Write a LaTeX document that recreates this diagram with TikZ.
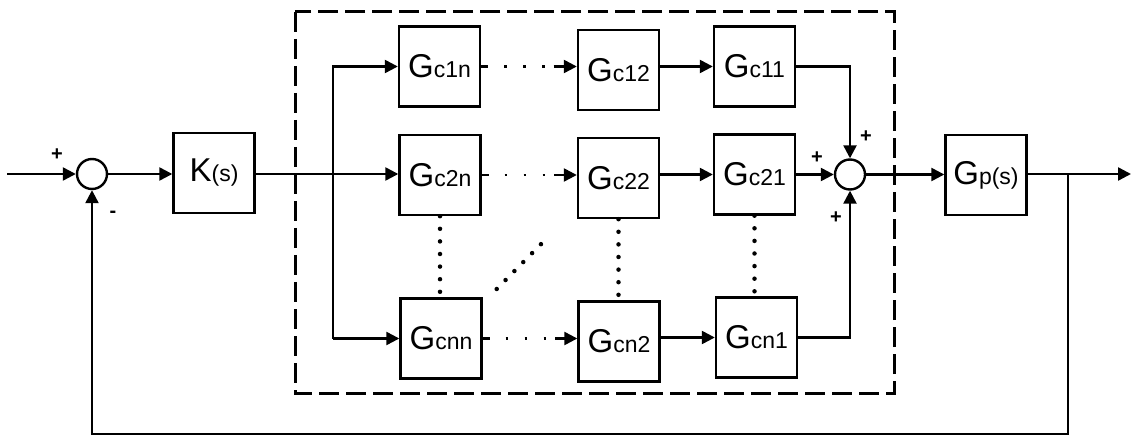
\documentclass[tikz,border=0pt]{standalone}
\usepackage{fontspec}
\setmainfont{Liberation Sans}
\usetikzlibrary{arrows.meta,calc}
% block label: large letter followed by a smaller suffix on the same baseline
\newcommand\blklabel[2]{{\fontsize{33}{33}\selectfont #1}{\fontsize{23}{23}\selectfont #2}}
\begin{document}
\begin{tikzpicture}[x=1pt,y=-1pt,line width=2.4pt,
  block/.style={draw,line width=2.4pt,minimum width=81pt,minimum height=80pt,inner sep=0pt},
  sumjn/.style={circle,draw,line width=2.4pt,minimum size=30pt,inner sep=0pt},
  arr/.style={-{Triangle[length=13pt,width=13pt]}},
  sign/.style={inner sep=0pt,font=\fontsize{20}{20}\selectfont\bfseries},
  hdots/.style={arr,dash pattern=on 7pt off 16pt on 2.5pt off 16.5pt on 2.5pt off 16.5pt on 2.5pt off 9pt on 60pt},
  vdots/.style={line width=4.5pt,line cap=round,dash pattern=on 0pt off 12.6pt},
  frame/.style={line width=3pt,dash pattern=on 20pt off 7pt}]
\useasboundingbox (0,0) rectangle (1131,435);

% controller frame
\draw[frame] (295,12) rectangle (894,393);

% main loop
\node[sumjn] (s1) at (92,174) {};
\node[block] (K) at (214,173) {\blklabel{K}{(s)}};
\node[sumjn] (s2) at (850,174.5) {};
\node[block] (Gp) at (986,175) {\blklabel{G}{p(s)}};

% compensator blocks
\node[block] (g1n) at (439.5,66.5) {\blklabel{G}{c1n}};
\node[block] (g12) at (618.5,70) {\blklabel{G}{c12}};
\node[block] (g11) at (754.5,66.5) {\blklabel{G}{c11}};
\node[block] (g2n) at (440,175) {\blklabel{G}{c2n}};
\node[block] (g22) at (618.5,178) {\blklabel{G}{c22}};
\node[block] (g21) at (754.5,174.5) {\blklabel{G}{c21}};
\node[block] (gnn) at (441,338.5) {\blklabel{G}{cnn}};
\node[block] (gn2) at (619,341.5) {\blklabel{G}{cn2}};
\node[block] (gn1) at (756.5,337.5) {\blklabel{G}{cn1}};

% free ends and branch points
\coordinate (in) at (7,174);
\coordinate (out) at (1131,174);
\coordinate (split) at (333,174);
\coordinate (tap) at (1068,174);
\coordinate (fb) at (1068,434.5);
\coordinate (d1) at (496.7,289);
\coordinate (d2) at (549.3,235.7);

% signs
\node[sign] (p1) at (57,155) {+};
\node[sign] (m1) at (113,214) {-};
\node[sign] (p2) at (866,137) {+};
\node[sign] (p3) at (817,158) {+};
\node[sign] (p4) at (836,218) {+};

% forward path
\draw[arr] (in) -- (s1.west);
\draw[arr] (s1.east) -- (s1.east -| K.west);
\draw[arr] (K.east |- split) -- (split -| g2n.west);
\draw[arr] (split |- gnn.west) |- (g1n.west);
\draw[arr] (split |- gnn.west) -- (gnn.west);

% rows
\draw[hdots] (g1n.east) -- (g1n.east -| g12.west);
\draw[hdots] (g2n.east) -- (g2n.east -| g22.west);
\draw[hdots] (gnn.east) -- (gnn.east -| gn2.west);
\draw[arr] (g12.east |- g11.west) -- (g11.west);
\draw[arr] (g22.east |- g21.west) -- (g21.west);
\draw[arr] (gn2.east |- gn1.west) -- (gn1.west);

% omitted blocks
\draw[vdots] (g2n.south) -- (g2n.south |- gnn.north);
\draw[vdots] (g22.south) -- (g22.south |- gn2.north);
\draw[vdots] (g21.south) -- (g21.south |- gn1.north);
\draw[vdots] (d1) -- (d2);

% summation and plant
\draw[arr] (g21.east) -- (s2.west);
\draw[arr] (g11.east) -| (s2.north);
\draw[arr] (gn1.east) -| (s2.south);
\draw[arr] (s2.east) -- (s2.east -| Gp.west);
\draw[arr] (Gp.east |- out) -- (out);

% feedback
\draw[arr] (tap) -- (fb) -| (s1.south);
\end{tikzpicture}
\end{document}
